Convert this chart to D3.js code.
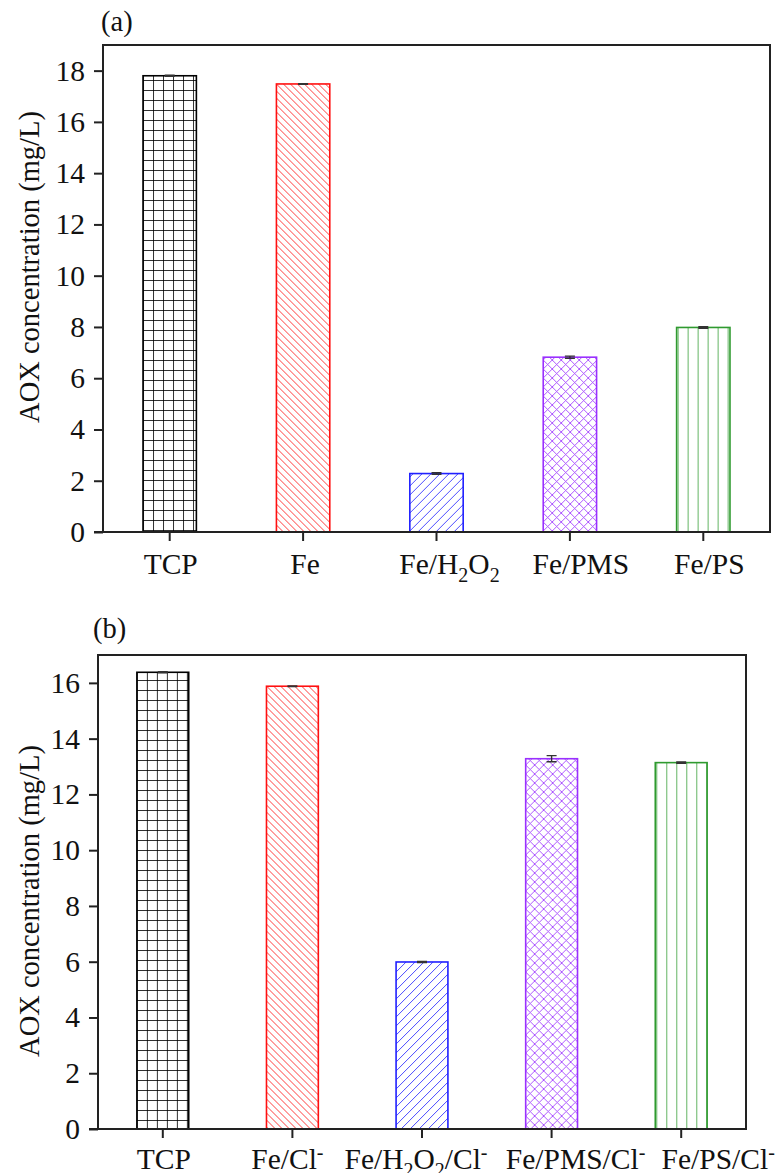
<!DOCTYPE html>
<html>
<head>
<meta charset="utf-8">
<script src="https://cdn.jsdelivr.net/npm/d3@7"></script>
<style>
  body { margin: 0; background: #fff; }
  text { font-family: "Liberation Serif", "Times New Roman", serif; fill: #111; }
</style>
</head>
<body>
<svg id="mainsvg" width="780" height="1173"></svg>
<script>
// panel (a)
const catsA = ["TCP", "Fe", "Fe/H_2O_2", "Fe/PMS", "Fe/PS"]
const valsA = [17.8, 17.48, 2.28, 6.82, 7.98]
const errsA = [0.02, 0.01, 0.03, 0.04, 0.03]
const yTicksA = [0, 2, 4, 6, 8, 10, 12, 14, 16, 18]

// panel (b)
const catsB = ["TCP", "Fe/Cl^-", "Fe/H_2O_2/Cl^-", "Fe/PMS/Cl^-", "Fe/PS/Cl^-"]
const valsB = [16.38, 15.88, 5.99, 13.28, 13.14]
const errsB = [0.02, 0.01, 0.02, 0.11, 0.02]
const yTicksB = [0, 2, 4, 6, 8, 10, 12, 14, 16]

const colors = ["#000000", "#ff1010", "#2020ff", "#9a30ff", "#2f9a2f"]
const kinds = ["grid", "back", "fwd", "cross", "vert"]
// the tick labels are nudged sideways so they do not collide
const labelShiftA = [1, 2, 13, 11, 6]
const labelShiftB = [1, -5, -6, 24, 37]

const svg = d3.select("#mainsvg")
const defs = svg.append("defs")

function makePattern(id, kind, color, x0) {
    let p = defs.append("pattern").attr("id", id)
        .attr("patternUnits", "userSpaceOnUse")
    let d, s
    if (kind === "grid") { s = 10; d = "M0.5,0 V10 M0,0.5 H10" }
    if (kind === "back") { s = 7; d = "M0,0 L7,7 M-1,6 L1,8 M6,-1 L8,1" }
    if (kind === "fwd") { s = 9; d = "M0,9 L9,0 M-1,1 L1,-1 M8,10 L10,8" }
    if (kind === "cross") { s = 9; d = "M0,9 L9,0 M-1,1 L1,-1 M8,10 L10,8 M0,0 L9,9 M-1,8 L1,10 M8,-1 L10,1" }
    if (kind === "vert") { s = 10; d = "M1.5,0 V10" }
    p.attr("width", s).attr("height", s).attr("x", x0)
    p.append("rect").attr("width", s).attr("height", s).attr("fill", "#fff")
    p.append("path").attr("d", d)
        .attr("stroke", color)
        .attr("stroke-width", kind === "vert" ? 1 : 0.9)
        .attr("stroke-opacity", kind === "vert" ? 0.75 : 0.9)
        .attr("fill", "none")
}

// label with _x subscript and ^x superscript
function richLabel(t, str) {
    let parts = str.match(/[_^].|[^_^]+/g)
    parts.forEach(part => {
        if (part[0] === "_") {
            t.append("tspan").text(part[1]).attr("font-size", 20).attr("baseline-shift", -8)
        } else if (part[0] === "^") {
            t.append("tspan").text(part[1]).attr("font-size", 20).attr("baseline-shift", 10)
        } else {
            t.append("tspan").text(part)
        }
    })
}

function drawPanel(name, cats, vals, errs, ticks, yMax, box, tag, titleY, shifts, labelGap) {
    let [x0, x1, y0, y1] = box
    const x = d3.scaleBand().domain(cats).range([x0, x1]).paddingInner(0.6).paddingOuter(0.3)
    const y = d3.scaleLinear().domain([0, yMax]).range([y1, y0])
    const g = svg.append("g").attr("id", `panel${name}`)

    cats.forEach((c, i) => makePattern(`pat${name}${i}`, kinds[i], colors[i], x(c)))

    g.selectAll("rect.bar").data(vals).join("rect")
        .attr("class", "bar")
        .attr("x", (d, i) => x(cats[i]))
        .attr("y", d => y(d))
        .attr("width", x.bandwidth())
        .attr("height", d => y(0) - y(d))
        .attr("fill", (d, i) => `url(#pat${name}${i})`)
        .attr("stroke", (d, i) => colors[i])
        .attr("stroke-width", 1.6)

    // error bars
    const eb = g.selectAll("g.err").data(vals).join("g").attr("class", "err")
    eb.append("path")
        .attr("d", (d, i) => {
            let cx = x(cats[i]) + x.bandwidth() / 2
            return `M${cx},${y(d + errs[i])} V${y(d - errs[i])} M${cx - 5},${y(d + errs[i])} H${cx + 5} M${cx - 5},${y(d - errs[i])} H${cx + 5}`
        })
        .attr("stroke", "#333")
        .attr("stroke-width", 1.4)
        .attr("fill", "none")

    // axes
    const ya = g.append("g").attr("transform", `translate(${x0},0)`)
        .call(d3.axisLeft(y).tickValues(ticks).tickSize(9).tickPadding(9).tickFormat(d3.format("d")))
    ya.select(".domain").remove()
    ya.selectAll("line").attr("stroke", "#222").attr("stroke-width", 2)
    ya.selectAll("text").attr("font-size", 29.5).attr("fill", "#111")
        .attr("font-family", "Liberation Serif")

    const xa = g.append("g").attr("transform", `translate(0,${y1})`)
        .call(d3.axisBottom(x).tickSize(9).tickFormat(""))
    xa.select(".domain").remove()
    xa.selectAll("line").attr("stroke", "#222").attr("stroke-width", 2)

    cats.forEach((c, i) => {
        let t = g.append("text")
            .attr("x", x(c) + x.bandwidth() / 2 + shifts[i])
            .attr("y", y1 + labelGap)
            .attr("text-anchor", "middle")
            .attr("font-size", 29.5)
        richLabel(t, c)
    })

    g.append("rect")
        .attr("x", x0).attr("y", y0)
        .attr("width", x1 - x0).attr("height", y1 - y0)
        .attr("fill", "none").attr("stroke", "#222").attr("stroke-width", 2)
    // zero line stretches to tick
    g.append("line").attr("x1", x0 - 9).attr("x2", x0).attr("y1", y1).attr("y2", y1)
        .attr("stroke", "#222").attr("stroke-width", 2)

    g.append("text")
        .attr("transform", `translate(39,${titleY}) rotate(-90)`)
        .attr("text-anchor", "middle")
        .attr("font-size", 28.5)
        .text("AOX concentration (mg/L)")

    g.append("text")
        .attr("x", tag[0]).attr("y", tag[1])
        .attr("font-size", 28.5)
        .text(name === "a" ? "(a)" : "(b)")
}

drawPanel("a", catsA, valsA, errsA, yTicksA, 19, [103, 770, 45, 532], [101, 31], 267, labelShiftA, 42)
drawPanel("b", catsB, valsB, errsB, yTicksB, 17, [98, 746, 655, 1129], [93, 638], 901, labelShiftB, 40)
</script>
</body>
</html>
